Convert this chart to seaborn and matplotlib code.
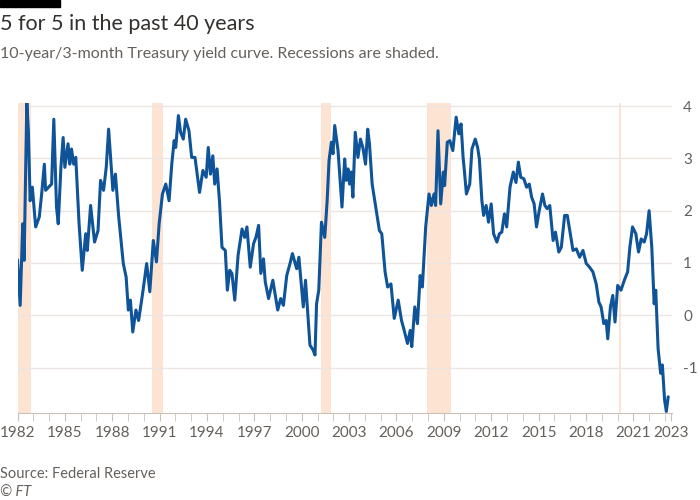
"""FT-style yield curve chart: 10-year minus 3-month Treasury spread."""
import matplotlib
matplotlib.use("Agg")
import matplotlib.pyplot as plt
import seaborn as sns
import pandas as pd

YEARS = [
    1982.0, 1982.17, 1982.33, 1982.42, 1982.59, 1982.69, 1982.8, 1982.94, 1983.15, 1983.38,
    1983.53, 1983.7, 1983.78, 1984.16, 1984.3, 1984.47, 1984.58, 1984.75, 1984.89, 1985.0,
    1985.2, 1985.31, 1985.42, 1985.56, 1985.69, 1985.9, 1986.1, 1986.32, 1986.42, 1986.63,
    1986.88, 1987.1, 1987.26, 1987.45, 1987.62, 1987.77, 1988.04, 1988.2, 1988.41, 1988.7,
    1988.88, 1989.02, 1989.15, 1989.3, 1989.5, 1989.67, 1989.92, 1990.18, 1990.38, 1990.6,
    1990.8, 1990.97, 1991.18, 1991.39, 1991.6, 1991.77, 1991.92, 1992.02, 1992.19, 1992.33,
    1992.5, 1992.65, 1992.86, 1993.03, 1993.24, 1993.38, 1993.53, 1993.74, 1993.95, 1994.08,
    1994.22, 1994.37, 1994.49, 1994.64, 1994.79, 1994.95, 1995.16, 1995.29, 1995.44, 1995.58,
    1995.76, 1995.97, 1996.22, 1996.39, 1996.53, 1996.74, 1996.95, 1997.1, 1997.27, 1997.41,
    1997.58, 1997.69, 1997.9, 1998.17, 1998.48, 1998.67, 1998.84, 1999.05, 1999.26, 1999.41,
    1999.68, 1999.82, 2000.1, 2000.24, 2000.41, 2000.52, 2000.73, 2000.84, 2000.94, 2001.08,
    2001.25, 2001.46, 2001.61, 2001.73, 2001.88, 2001.98, 2002.09, 2002.3, 2002.55, 2002.72,
    2002.82, 2002.93, 2003.03, 2003.14, 2003.24, 2003.39, 2003.56, 2003.72, 2003.87, 2004.04,
    2004.18, 2004.29, 2004.46, 2004.67, 2004.92, 2005.07, 2005.28, 2005.44, 2005.65, 2005.86,
    2006.11, 2006.32, 2006.49, 2006.7, 2006.87, 2006.97, 2007.16, 2007.33, 2007.5, 2007.64,
    2007.85, 2008.06, 2008.21, 2008.38, 2008.48, 2008.63, 2008.8, 2008.97, 2009.05, 2009.22,
    2009.38, 2009.57, 2009.78, 2009.95, 2010.09, 2010.22, 2010.3, 2010.43, 2010.64, 2010.78,
    2010.99, 2011.14, 2011.25, 2011.41, 2011.52, 2011.68, 2011.83, 2012.0, 2012.15, 2012.36,
    2012.52, 2012.67, 2012.84, 2012.98, 2013.19, 2013.4, 2013.57, 2013.72, 2013.87, 2014.07,
    2014.24, 2014.41, 2014.56, 2014.72, 2014.87, 2015.04, 2015.25, 2015.4, 2015.54, 2015.71,
    2015.92, 2016.07, 2016.28, 2016.44, 2016.65, 2016.82, 2017.01, 2017.18, 2017.39, 2017.6,
    2017.81, 2018.02, 2018.23, 2018.44, 2018.65, 2018.82, 2018.96, 2019.13, 2019.28, 2019.38,
    2019.55, 2019.7, 2019.84, 2020.01, 2020.22, 2020.43, 2020.64, 2020.78, 2020.95, 2021.16,
    2021.33, 2021.5, 2021.69, 2021.84, 2022.0, 2022.17, 2022.32, 2022.42, 2022.57, 2022.73,
    2022.84, 2022.98, 2023.09, 2023.21,
]
SPREAD = [
    1.06, 0.19, 1.75, 1.05, 4.07, 3.53, 2.19, 2.45, 1.69, 1.88,
    2.32, 2.89, 2.39, 2.51, 3.75, 2.07, 1.75, 2.83, 3.40, 2.83,
    3.28, 2.89, 3.18, 2.89, 3.02, 1.75, 0.86, 1.56, 1.24, 2.10,
    1.40, 1.62, 2.58, 2.39, 2.83, 3.56, 2.39, 2.70, 1.88, 0.99,
    0.73, 0.10, 0.29, -0.32, 0.10, -0.10, 0.41, 0.99, 0.45, 1.43,
    1.02, 1.75, 2.32, 2.51, 2.19, 2.89, 3.34, 3.21, 3.82, 3.50,
    3.37, 3.75, 3.53, 3.02, 3.02, 2.70, 2.35, 2.77, 2.64, 3.21,
    2.70, 3.05, 2.51, 2.80, 2.19, 1.30, 1.24, 0.48, 0.86, 0.80,
    0.29, 1.15, 1.65, 1.49, 1.69, 0.92, 1.37, 1.49, 1.72, 0.80,
    1.08, 0.64, 0.32, 0.67, 0.10, 0.32, 0.19, 0.76, 0.99, 1.18,
    0.89, 1.11, 0.16, 0.67, -0.10, -0.57, -0.67, -0.76, 0.22, 0.48,
    1.78, 1.49, 2.19, 2.96, 3.31, 3.09, 3.63, 3.15, 2.07, 2.99,
    2.58, 2.80, 2.51, 2.74, 2.26, 3.50, 3.02, 3.37, 3.21, 2.89,
    3.56, 3.28, 2.51, 2.10, 1.62, 1.56, 0.83, 0.54, 0.60, -0.06,
    0.29, -0.10, -0.29, -0.54, -0.29, -0.60, 0.16, -0.16, 0.76, 0.54,
    1.69, 2.32, 2.10, 2.32, 2.10, 3.53, 2.13, 2.74, 2.48, 3.31,
    3.34, 3.15, 3.79, 3.47, 3.66, 3.02, 2.77, 2.32, 2.51, 3.18,
    3.37, 3.21, 2.99, 2.19, 1.91, 2.10, 1.78, 2.13, 1.56, 1.40,
    1.56, 1.59, 1.94, 1.69, 2.45, 2.74, 2.54, 2.93, 2.64, 2.61,
    2.45, 2.51, 2.26, 2.13, 1.69, 2.00, 2.32, 2.10, 2.04, 2.10,
    1.43, 1.59, 1.21, 1.30, 1.91, 1.91, 1.56, 1.24, 1.27, 1.11,
    1.24, 0.99, 0.92, 0.83, 0.60, 0.25, 0.16, -0.16, -0.10, -0.45,
    0.16, 0.38, -0.13, 0.57, 0.48, 0.67, 0.83, 1.30, 1.69, 1.56,
    1.21, 1.46, 1.40, 1.56, 2.00, 1.30, 0.22, 0.48, -0.64, -1.11,
    -0.95, -1.62, -1.84, -1.56,
]
RECESSIONS = [(1981.6, 1982.85), (1990.5, 1991.2), (2001.2, 2001.85), (2007.95, 2009.45), (2020.1, 2020.2)]
Y_TICKS = [-1, 0, 1, 2, 3, 4]
X_LABEL_YEARS = [1982, 1985, 1988, 1991, 1994, 1997, 2000, 2003, 2006, 2009, 2012, 2015, 2018, 2021]
LAST_DATE = 2023.4  # final labelled tick sits on the last observation
LAST_LABEL = "2023"

sns.set_style("white")
plt.rcParams["font.family"] = ["Lato", "DejaVu Sans"]

df = pd.DataFrame({"year": YEARS, "spread": SPREAD})

fig = plt.figure(figsize=(7, 5), dpi=100)
ax = fig.add_axes([0.025, 0.175, 0.935, 0.62])

for start, end in RECESSIONS:
    ax.axvspan(start, end, color="#fde3d2", lw=0, zorder=0)

for v in Y_TICKS:
    ax.axhline(v, color="#ebe6e3", lw=1, zorder=1)

sns.lineplot(data=df, x="year", y="spread", ax=ax, color="#0f5499", lw=2.2, sort=False, zorder=3)

ax.set_xlim(1982, LAST_DATE + 0.05)
ax.set_ylim(-1.86, 4.07)
ax.yaxis.tick_right()
ax.set_yticks(Y_TICKS)
ax.set_yticklabels([str(v) for v in Y_TICKS])
ax.set_xticks(X_LABEL_YEARS + [LAST_DATE])
ax.set_xticklabels([str(y) for y in X_LABEL_YEARS] + [LAST_LABEL])
ax.set_xticks(range(1982, 2024), minor=True)
ax.tick_params(axis="y", length=0, labelsize=11, labelcolor="#66605c", pad=8)
ax.tick_params(axis="x", which="both", length=6, color="#ccc1b7", bottom=True,
               labelsize=11, labelcolor="#66605c")
ax.set_xlabel("")
ax.set_ylabel("")
for side in ["top", "left", "right"]:
    ax.spines[side].set_visible(False)
ax.spines["bottom"].set_color("#ccc1b7")

fig.add_artist(plt.Rectangle((0, 0.986), 0.085, 0.014, color="black", transform=fig.transFigure))
fig.text(0.0, 0.972, "5 for 5 in the past 40 years", fontsize=15.5, color="#33302e", va="top")
fig.text(0.0, 0.906, "10-year/3-month Treasury yield curve. Recessions are shaded.",
         fontsize=11.5, color="#66605c", va="top")
fig.text(0.0, 0.065, "Source: Federal Reserve", fontsize=10.5, color="#66605c", va="top")
fig.text(0.0, 0.028, "© FT", fontsize=10.5, color="#66605c", va="top", style="italic")

fig.savefig("out.png")
